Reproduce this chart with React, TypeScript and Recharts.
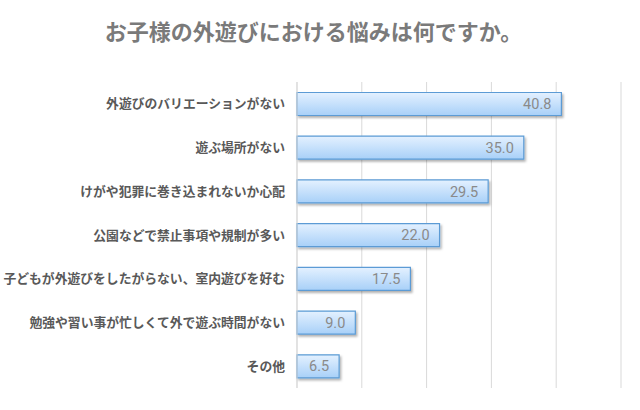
import React from 'react';
import { BarChart, Bar, XAxis, YAxis, CartesianGrid, LabelList } from 'recharts';

// 質問と回答の割合 (%)
const chartTitle = 'お子様の外遊びにおける悩みは何ですか。';

const categories = [
  '外遊びのバリエーションがない',
  '遊ぶ場所がない',
  'けがや犯罪に巻き込まれないか心配',
  '公園などで禁止事項や規制が多い',
  '子どもが外遊びをしたがらない、室内遊びを好む',
  '勉強や習い事が忙しくて外で遊ぶ時間がない',
  'その他',
];

const values = [40.8, 35.0, 29.5, 22.0, 17.5, 9.0, 6.5];

const xTicks = [0, 10, 20, 30, 40, 50];

const data = categories.map((name, i) => ({ name, value: values[i] }));

const App: React.FC = () => {
  return (
    <div
      style={{
        position: 'absolute',
        left: 0,
        top: 0,
        width: 640,
        height: 410,
        background: '#fff',
        fontFamily: '"Noto Sans CJK JP", "Noto Sans", sans-serif',
      }}
    >
      <div
        style={{
          position: 'absolute',
          top: 14,
          left: 0,
          width: 627,
          textAlign: 'center',
          fontSize: 22,
          fontWeight: 700,
          color: '#7a7a7a',
        }}
      >
        {chartTitle}
      </div>
      <BarChart
        width={640}
        height={410}
        data={data}
        layout="vertical"
        margin={{ top: 82, right: 19, bottom: 22, left: 0 }}
        barCategoryGap="24%"
      >
        <defs>
          <linearGradient id="barFill" x1="0" y1="0" x2="0" y2="1">
            <stop offset="0%" stopColor="#e4f1ff" />
            <stop offset="100%" stopColor="#a8d0f8" />
          </linearGradient>
          <filter id="barShadow" x="-5%" y="-20%" width="115%" height="160%">
            <feDropShadow dx="1.5" dy="2" stdDeviation="1.2" floodColor="#000" floodOpacity="0.3" />
          </filter>
        </defs>
        <CartesianGrid horizontal={false} stroke="#d9d9d9" />
        <XAxis type="number" domain={[0, 50]} ticks={xTicks} hide />
        <YAxis
          type="category"
          dataKey="name"
          width={297}
          axisLine={{ stroke: '#d9d9d9' }}
          tickLine={false}
          tickMargin={6}
          interval={0}
          tick={{ fontSize: 12.8, fontWeight: 700, fill: '#595959' }}
        />
        <Bar
          dataKey="value"
          fill="url(#barFill)"
          stroke="#5b9bd5"
          strokeWidth={1.2}
          filter="url(#barShadow)"
          isAnimationActive={false}
        >
          <LabelList
            dataKey="value"
            position="insideRight"
            offset={10}
            formatter={(v: number) => v.toFixed(1)}
            style={{ fontSize: 14.5, fill: '#8a8a8a', fontFamily: 'Roboto, sans-serif' }}
          />
        </Bar>
      </BarChart>
    </div>
  );
};

export default App;
